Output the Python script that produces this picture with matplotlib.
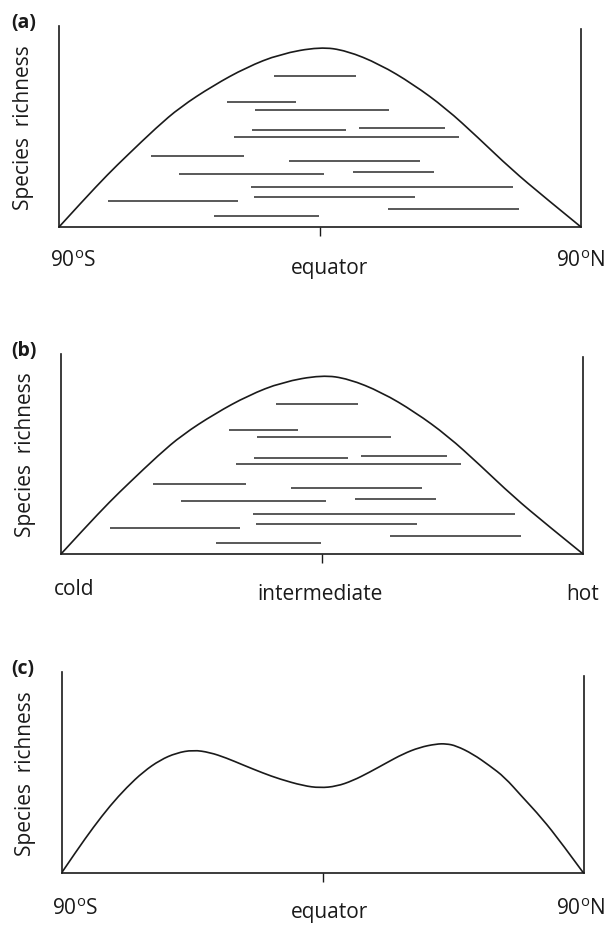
import matplotlib
matplotlib.use("Agg")
import matplotlib.pyplot as plt
from matplotlib.path import Path
from matplotlib.patches import PathPatch

plt.rcParams['font.family'] = ['Open Sans', 'DejaVu Sans']
plt.rcParams['mathtext.fontset'] = 'custom'
plt.rcParams['mathtext.rm'] = 'Open Sans'

# unimodal richness curve (a, b), x = 0..100 across gradient, y = 0..100 of axis
hump_x = [0, 4.6, 9.4, 13.0, 18.7, 23.2, 29.5, 35.9, 42.3, 50.0, 55.1, 61.4, 67.8, 74.1, 80.2, 86.6, 93.0, 100]
hump_y = [0, 13.1, 26.3, 35.4, 49.5, 59.5, 70.2, 79.3, 85.9, 89.5, 87.6, 80.9, 71.0, 59.0, 44.6, 28.8, 14.8, 0]

# species range extents
range_lo = [41.1, 32.1, 37.6, 36.9, 57.4, 33.6, 17.7, 44.1, 23.0, 56.4, 36.7, 37.4, 9.4, 63.0, 29.6]
range_hi = [56.9, 45.4, 63.2, 55.0, 74.0, 76.7, 35.5, 69.2, 50.7, 71.8, 87.0, 68.2, 34.2, 88.2, 49.8]
range_y = [75.0, 62.1, 58.3, 48.0, 49.2, 44.9, 35.1, 32.9, 26.5, 27.3, 20.0, 14.9, 12.9, 9.1, 5.3]

# bimodal curve (c)
bimod_x = [0, 2.9, 6.1, 9.3, 12.5, 15.7, 18.9, 22.0, 25.2, 28.4, 31.6, 34.8, 38.6, 41.8, 46.3,
           49.5, 52.7, 55.8, 59.0, 62.2, 65.4, 68.6, 71.8, 73.7, 75.6, 78.8, 82.0, 84.9, 88.1,
           92.0, 95.8, 100]
bimod_y = [0, 11.1, 22.8, 33.5, 42.7, 50.5, 56.3, 59.8, 61.3, 60.1, 57.3, 53.8, 49.8, 46.8, 43.5,
           42.4, 43.2, 46.0, 50.2, 54.8, 59.3, 62.6, 64.3, 64.4, 63.4, 59.3, 53.5, 47.7, 38.4,
           27.4, 14.9, 0]

W, H = 606, 928
fig = plt.figure(figsize=(W / 100, H / 100), dpi=100)
ink = '#1a1a1a'


def smooth_line(ax, xs, ys):
    pts = list(zip(xs, ys))
    verts = [pts[0]]
    codes = [Path.MOVETO]
    n = len(pts)
    for i in range(1, n - 1):
        if i < n - 2:
            end = ((pts[i][0] + pts[i + 1][0]) / 2, (pts[i][1] + pts[i + 1][1]) / 2)
        else:
            end = pts[-1]
        verts += [pts[i], end]
        codes += [Path.CURVE3, Path.CURVE3]
    ax.add_patch(PathPatch(Path(verts, codes), fill=False, lw=1.2, ec=ink))


def panel(left, top, bottom, letter, labels):
    ax = fig.add_axes([left / W, 1 - bottom / H, 522 / W, (bottom - top) / H])
    ax.set_xlim(0, 100)
    ax.set_ylim(0, 100)
    ax.spines['top'].set_visible(False)
    for s in ['left', 'right', 'bottom']:
        ax.spines[s].set_linewidth(1.2)
        ax.spines[s].set_color(ink)
    ax.spines['right'].set_bounds(0, 98.4)
    ax.set_xticks([50])
    ax.set_yticks([])
    ax.tick_params(axis='x', length=6.5, width=1.0, color=ink, labelbottom=False)
    ax.set_ylabel('Species  richness', fontsize=15, color=ink, labelpad=18)
    fig.text(11 / W, 1 - (top + 1) / H, letter, fontsize=14, fontweight='bold', color=ink, va='baseline')
    for txt, x, y, ha in labels:
        fig.text(x / W, 1 - y / H, txt, fontsize=15, color=ink, ha=ha, va='baseline')
    return ax


lat_S = r'90$^{\mathrm{o}}$S'
lat_N = r'90$^{\mathrm{o}}$N'

ax_a = panel(59, 26.7, 228, '(a)',
             [(lat_S, 50, 267, 'left'), ('equator', 329, 274, 'center'), (lat_N, 605, 267, 'right')])
smooth_line(ax_a, hump_x, hump_y)
ax_a.hlines(range_y, range_lo, range_hi, color='#2b2b2b', lw=1.1)

ax_b = panel(61, 355, 555, '(b)',
             [('cold', 54, 595, 'left'), ('intermediate', 320, 600, 'center'), ('hot', 599, 600, 'right')])
smooth_line(ax_b, hump_x, hump_y)
ax_b.hlines(range_y, range_lo, range_hi, color='#2b2b2b', lw=1.1)

ax_c = panel(61.5, 673.3, 874, '(c)',
             [(lat_S, 52, 915, 'left'), ('equator', 329, 918, 'center'), (lat_N, 605, 915, 'right')])
smooth_line(ax_c, bimod_x, bimod_y)

fig.savefig('out.png', dpi=100)
